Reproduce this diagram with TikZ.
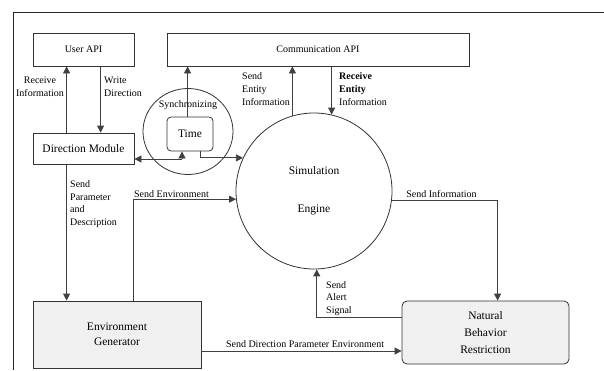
\documentclass[tikz,border=0pt]{standalone}
\usepackage{fontspec}
\setmainfont{Liberation Serif}
\usetikzlibrary{arrows.meta,calc,shapes.geometric}
\begin{document}
\begin{tikzpicture}[x=1pt,y=-1pt,
  every node/.style={font=\fontsize{10}{12.6}\selectfont},
  box/.style={draw=black!80, line width=0.8pt, inner sep=0pt},
  bigtext/.style={font=\fontsize{11.5}{15}\selectfont, align=center},
  shaded/.style={fill=black!6},
  flow/.style={draw=black!75, line width=0.8pt, -{Triangle[length=7pt,width=7pt]}},
  lbl/.style={inner sep=0pt, align=left},
]
\useasboundingbox (0,0) rectangle (604,370);
% outer frame
\draw[black!85, line width=0.8pt] (13,370) -- (13,12) -- (604,12);

% processes and interfaces
\node[box, minimum width=101pt, minimum height=33pt] (userapi) at (83.5,49.5) {User API};
\node[box, minimum width=302pt, minimum height=33pt] (commapi) at (318,49.5) {Communication API};
\node[box, bigtext, minimum width=101pt, minimum height=31pt] (dirmod) at (83.5,148.5) {Direction Module};
\node[box, ellipse, minimum width=90pt, minimum height=86pt] (sync) at (188,131.5) {};
\node[box, bigtext, rounded corners=4pt, minimum width=46pt, minimum height=34pt] (time) at (190,134) {Time};
\node[box, circle, bigtext, minimum size=156pt] (sim) at (314,191) {Simulation\\[23pt]Engine};
\node[box, shaded, bigtext, minimum width=168pt, minimum height=67pt] (envgen) at (117,334.5) {Environment\\Generator};
\node[box, shaded, bigtext, font=\fontsize{11.5}{17}\selectfont, rounded corners=5pt,
      minimum width=167pt, minimum height=63pt] (nbr) at (485.5,332.5) {Natural\\Behavior\\Restriction};

% connector end points on the box edges
\coordinate (time-up) at ($(time.north west)+(21,0)$);
\coordinate (env-out) at ($(envgen.east)+(0,16.5)$);

% user API <-> direction module
\draw[flow] ($(dirmod.north west)+(34,0)$) -- ($(userapi.south west)+(34,0)$);
\draw[flow] ($(userapi.south west)+(68,0)$) -- ($(dirmod.north west)+(68,0)$);
\node[lbl, align=center] (l-recv) at (40,87) {Receive\\Information};
\node[lbl, anchor=west] (l-write) at (104,87) {Write\\Direction};

% time and simulation engine <-> communication API
\draw[flow] (time-up) -- (time-up |- commapi.south);
\draw[flow] (sim.106.4) -- (sim.106.4 |- commapi.south);
\draw[flow] (sim.77.4 |- commapi.south) -- (sim.77.4);
\node[lbl, anchor=west] (l-sendent) at (242,89) {Send\\Entity\\Information};
\node[lbl, anchor=west] (l-recvent) at (339,89) {\textbf{Receive}\\\textbf{Entity}\\Information};
\node (l-sync) at (188,105) {Synchronizing};

% direction module / time / simulation engine bus
\coordinate (bus) at (182,159);
\draw[flow] (bus) -- (bus |- time.south);
\draw[flow] (bus) -- (bus -| dirmod.east);
\draw[flow] ($(time.south west)+(34,0)$) |- (sim.155.8);

% direction module -> environment generator
\draw[flow] ($(dirmod.south west)+(34,0)$) -- ($(envgen.north west)+(34,0)$);
\node[lbl, anchor=west] (l-param) at (70,204) {Send\\Parameter\\and\\Description};

% environment generator -> simulation engine
\draw[flow] ($(envgen.north west)+(101,0)$) |- (sim.186.6);
\node (l-env) at (171.5,194) {Send Environment};

% simulation engine -> natural behavior restriction
\draw[flow] (sim.353.4) -| ($(nbr.north west)+(96,0)$);
\node (l-info) at (441.5,194) {Send Information};

% natural behavior restriction -> simulation engine
\draw[flow] ($(nbr.north west)+(0,17)$) -| (sim.272.9);
\node[lbl, anchor=west] (l-alert) at (326,298.5) {Send\\Alert\\Signal};

% environment generator -> natural behavior restriction
\draw[flow] (env-out) -- (env-out -| nbr.west);
\node (l-dir) at (305,344) {Send Direction Parameter Environment};
\end{tikzpicture}
\end{document}
